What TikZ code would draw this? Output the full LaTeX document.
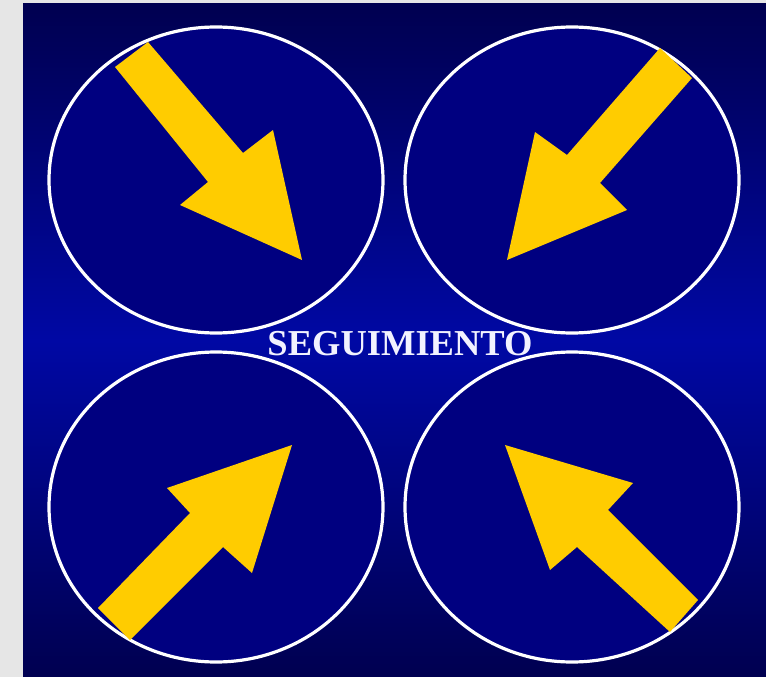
\documentclass[tikz,border=0pt]{standalone}
\usepackage{fontspec}
\setmainfont{Liberation Serif}
\definecolor{pagegray}{HTML}{E6E6E6}
\definecolor{navydark}{HTML}{000050}
\definecolor{navymid}{HTML}{0008A4}
\definecolor{ovalfill}{HTML}{000080}
\definecolor{arrowyellow}{HTML}{FFCC00}
\definecolor{titlewhite}{HTML}{F2F2FF}
\tikzset{
  oval/.style={draw=white, line width=3.2pt, fill=ovalfill},
  bigarrow/.style={fill=arrowyellow, draw=none},
  title/.style={text=titlewhite, font=\bfseries\fontsize{36.5}{36.5}\selectfont, inner sep=0pt}
}
\begin{document}
\begin{tikzpicture}[x=1pt,y=-1pt]
\useasboundingbox (0,0) rectangle (766,677);
\fill[pagegray] (0,0) rectangle (766,677);
\shade[top color=navydark, bottom color=navydark, middle color=navymid] (23,4) rectangle (766,677);
% ovals
\draw[oval] (216,180) ellipse [x radius=167, y radius=153];
\draw[oval] (572,180) ellipse [x radius=167, y radius=153];
\draw[oval] (216,507) ellipse [x radius=167, y radius=155];
\draw[oval] (572,507) ellipse [x radius=167, y radius=155];
% arrows
\fill[bigarrow] (148,42) -- (243,153) -- (273,130) -- (302,260) -- (180,205) -- (208,182) -- (115,67) -- cycle;
\fill[bigarrow] (660,48) -- (692,78) -- (600,183) -- (627,210) -- (507,260) -- (535,132) -- (567,155) -- cycle;
\fill[bigarrow] (98,608) -- (190,513) -- (167,488) -- (292,445) -- (252,573) -- (223,547) -- (130,640) -- cycle;
\fill[bigarrow] (505,445) -- (633,483) -- (608,510) -- (698,600) -- (670,632) -- (577,547) -- (550,570) -- cycle;
% title
\node[title] (t) at (400,344) {SEGUIMIENTO};
\end{tikzpicture}
\end{document}
